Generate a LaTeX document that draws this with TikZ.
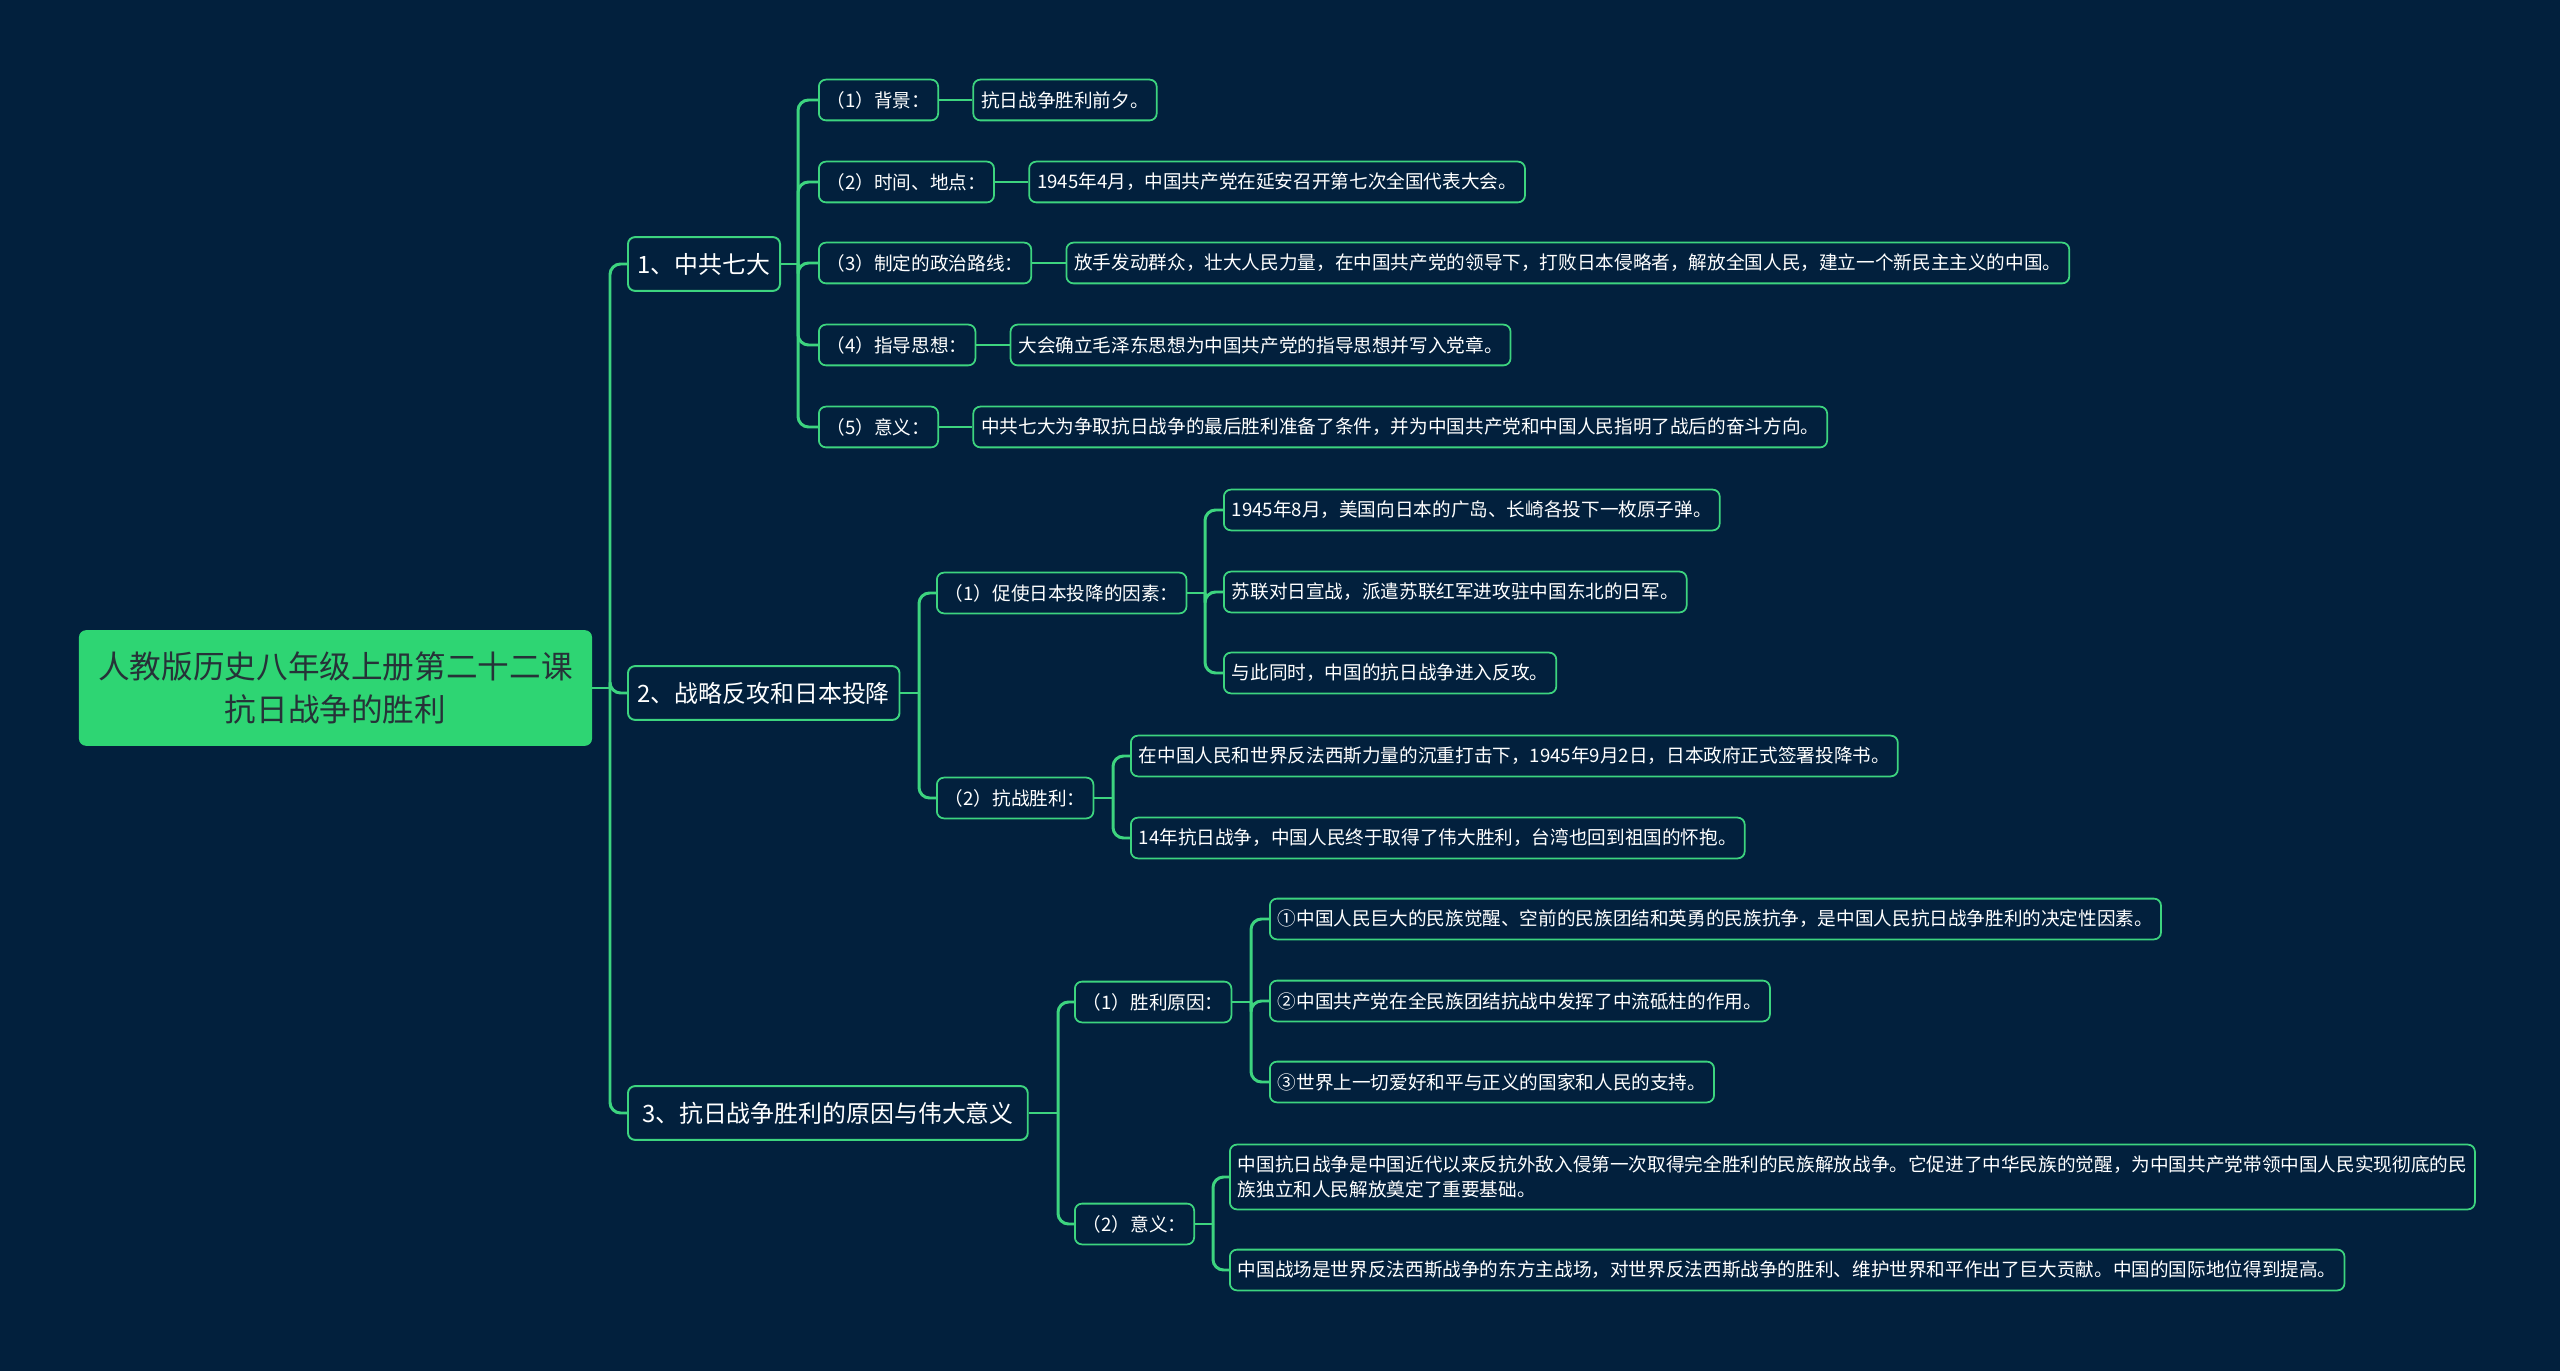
\documentclass[tikz,border=0pt]{standalone}
\usepackage{fontspec}
\setmainfont{Noto Sans CJK SC}
\usetikzlibrary{positioning, calc}
\definecolor{bgnavy}{HTML}{02203D}
\definecolor{linegreen}{HTML}{3DD47F}
\definecolor{rootgreen}{HTML}{2ED573}
\definecolor{roottext}{HTML}{263238}

\begin{document}
\begin{tikzpicture}[x=0.02cm, y=-0.02cm,
    root/.style={fill=rootgreen, rounded corners=4pt, minimum width=292pt, minimum height=65.8pt, align=center, font=\fontsize{18}{24}\selectfont, text=roottext},
    topic/.style={draw=linegreen, fill=bgnavy, line width=1.1pt, rounded corners=4pt, minimum height=30.6pt, inner xsep=5.5pt, font=\fontsize{13.6}{16}\selectfont, text=white, anchor=west},
    sub/.style={draw=linegreen, fill=bgnavy, line width=1pt, rounded corners=4pt, minimum height=23.2pt, inner xsep=4.5pt, font=\fontsize{10.6}{14}\selectfont, text=white, anchor=west},
    leaf/.style={sub},
    link/.style={draw=linegreen, line width=1.7pt, rounded corners=6pt},
]
  % background
  \fill[bgnavy] (0,0) rectangle (2560,1371);
  \useasboundingbox (0,0) rectangle (2560,1371);

  % root and main topics
  \node[root] (root) at (335.5,688) {人教版历史八年级上册第二十二课\\抗日战争的胜利};
  \node[topic] (t1) at (627,264) {1、中共七大};
  \node[topic] (t2) at (627,693) {2、战略反攻和日本投降};
  \node[topic, inner xsep=8pt] (t3) at (627,1113) {3、抗日战争胜利的原因与伟大意义};

  % topic 1
  \node[sub] (a1) at (818,100) {（1）背景：};
  \node[sub] (a2) at (818,182) {（2）时间、地点：};
  \node[sub] (a3) at (818,263) {（3）制定的政治路线：};
  \node[sub] (a4) at (818,345) {（4）指导思想：};
  \node[sub] (a5) at (818,427) {（5）意义：};
  \node[leaf, right=19pt of a1] (b1) {抗日战争胜利前夕。};
  \node[leaf, right=19pt of a2] (b2) {1945年4月，中国共产党在延安召开第七次全国代表大会。};
  \node[leaf, right=19pt of a3] (b3) {放手发动群众，壮大人民力量，在中国共产党的领导下，打败日本侵略者，解放全国人民，建立一个新民主主义的中国。};
  \node[leaf, right=19pt of a4] (b4) {大会确立毛泽东思想为中国共产党的指导思想并写入党章。};
  \node[leaf, right=19pt of a5] (b5) {中共七大为争取抗日战争的最后胜利准备了条件，并为中国共产党和中国人民指明了战后的奋斗方向。};

  % topic 2
  \node[sub] (c1) at (936,593) {（1）促使日本投降的因素：};
  \node[sub] (c2) at (936,798) {（2）抗战胜利：};
  \node[leaf] (d1) at (1223,510) {1945年8月，美国向日本的广岛、长崎各投下一枚原子弹。};
  \node[leaf] (d2) at (1223,592) {苏联对日宣战，派遣苏联红军进攻驻中国东北的日军。};
  \node[leaf] (d3) at (1223,673) {与此同时，中国的抗日战争进入反攻。};
  \node[leaf] (d4) at (1130,756) {在中国人民和世界反法西斯力量的沉重打击下，1945年9月2日，日本政府正式签署投降书。};
  \node[leaf] (d5) at (1130,838) {14年抗日战争，中国人民终于取得了伟大胜利，台湾也回到祖国的怀抱。};

  % topic 3
  \node[sub] (e1) at (1074,1002) {（1）胜利原因：};
  \node[sub] (e2) at (1074,1224) {（2）意义：};
  \node[leaf] (f1) at (1269,919) {①中国人民巨大的民族觉醒、空前的民族团结和英勇的民族抗争，是中国人民抗日战争胜利的决定性因素。};
  \node[leaf] (f2) at (1269,1001) {②中国共产党在全民族团结抗战中发挥了中流砥柱的作用。};
  \node[leaf] (f3) at (1269,1082) {③世界上一切爱好和平与正义的国家和人民的支持。};
  \node[leaf, align=left, minimum height=36.9pt] (g1) at (1229,1177) {中国抗日战争是中国近代以来反抗外敌入侵第一次取得完全胜利的民族解放战争。它促进了中华民族的觉醒，为中国共产党带领中国人民实现彻底的民\\族独立和人民解放奠定了重要基础。};
  \node[leaf] (g2) at (1229,1270) {中国战场是世界反法西斯战争的东方主战场，对世界反法西斯战争的胜利、维护世界和平作出了巨大贡献。中国的国际地位得到提高。};

  % connectors
  \coordinate (j0) at (610,688);
  \draw[link] (root.east) -- (j0);
  \foreach \t in {t1,t2,t3} \draw[link] (j0) |- (\t.west);

  \coordinate (j1) at (798,264);
  \draw[link] (t1.east) -- (j1);
  \foreach \s in {a1,a2,a3,a4,a5} \draw[link] (j1) |- (\s.west);
  \foreach \s/\l in {a1/b1,a2/b2,a3/b3,a4/b4,a5/b5} \draw[link] (\s.east) -- (\l.west);

  \coordinate (j2) at (919,693);
  \draw[link] (t2.east) -- (j2);
  \foreach \s in {c1,c2} \draw[link] (j2) |- (\s.west);
  \coordinate (j3) at (1205,593);
  \draw[link] (c1.east) -- (j3);
  \foreach \l in {d1,d2,d3} \draw[link] (j3) |- (\l.west);
  \coordinate (j4) at (1113,798);
  \draw[link] (c2.east) -- (j4);
  \foreach \l in {d4,d5} \draw[link] (j4) |- (\l.west);

  \coordinate (j5) at (1058,1113);
  \draw[link] (t3.east) -- (j5);
  \foreach \s in {e1,e2} \draw[link] (j5) |- (\s.west);
  \coordinate (j6) at (1251,1002);
  \draw[link] (e1.east) -- (j6);
  \foreach \l in {f1,f2,f3} \draw[link] (j6) |- (\l.west);
  \coordinate (j7) at (1213,1224);
  \draw[link] (e2.east) -- (j7);
  \foreach \l in {g1,g2} \draw[link] (j7) |- (\l.west);
\end{tikzpicture}
\end{document}
